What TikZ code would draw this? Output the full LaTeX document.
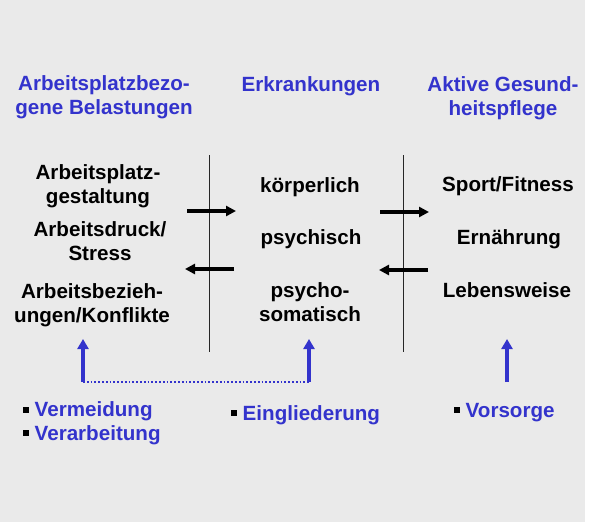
\documentclass[tikz,border=0pt]{standalone}
\usepackage{fontspec}
\setmainfont{Liberation Sans}
\usepackage{xcolor}
\usetikzlibrary{arrows.meta,positioning,calc}
\definecolor{headblue}{HTML}{3333CC}
\definecolor{panelgray}{HTML}{EAEAEA}
\newcommand{\sqbullet}{{\color{black}\rule[4pt]{6pt}{6pt}}\hspace{5.5pt}}

\begin{document}
\begin{tikzpicture}[
  x=1pt,
  y=-1pt,
  bigfont/.style={font=\bfseries\fontsize{20.6}{23.5}\selectfont},
  header/.style={bigfont,align=center,text=headblue,anchor=base,inner sep=0pt},
  factor/.style={bigfont,align=center,anchor=base,inner sep=0pt},
  measure/.style={bigfont,align=left,text=headblue,anchor=base west,inner sep=0pt},
  divider/.style={line width=1pt,draw=black!85},
  flow/.style={-{Triangle[length=10pt,width=10pt]},line width=3.3pt},
  lift/.style={-{Triangle[length=10pt,width=11pt]},line width=3.3pt,draw=headblue},
  link/.style={dotted,line width=1.8pt,draw=headblue}
]

\useasboundingbox (0,0) rectangle (590,522);
\fill[panelgray] (0,0) rectangle (585,522);

% column headers (base = last line)
\node[header] (belast) at (104,114) {Arbeitsplatzbezo-\\gene Belastungen};
\node[header] (erkrank) at (311,91) {Erkrankungen};
\node[header] (pflege) at (503,115) {Aktive Gesund-\\heitspflege};

% left column
\node[factor] (gestalt) at (98,203) {Arbeitsplatz-\\gestaltung};
\node[factor] (druck) at (100,260) {Arbeitsdruck/\\Stress};
\node[factor] (bezieh) at (92,322) {Arbeitsbezieh-\\ungen/Konflikte};

% middle column
\node[factor] (koerper) at (310,192) {körperlich};
\node[factor] (psych) at (311,244) {psychisch};
\node[factor] (psysom) at (310,321) {psycho-\\somatisch};

% right column
\node[factor] (sport) at (508,191) {Sport/Fitness};
\node[factor] (ernaehr) at (509,244) {Ernährung};
\node[factor] (leben) at (507,297) {Lebensweise};

% dividers
\coordinate (d1top) at (209,155);
\coordinate (d1bot) at (209,352);
\coordinate (d2top) at (403,155);
\coordinate (d2bot) at (403,352);
\draw[divider] (d1top) -- (d1bot);
\draw[divider] (d2top) -- (d2bot);

% influence arrows
\coordinate (a1s) at (187,211);
\coordinate (a1e) at (236,211);
\coordinate (a2s) at (234,269);
\coordinate (a2e) at (185,269);
\coordinate (a3s) at (380,212);
\coordinate (a3e) at (429,212);
\coordinate (a4s) at (428,270);
\coordinate (a4e) at (379,270);
\draw[flow] (a1s) -- (a1e);
\draw[flow] (a2s) -- (a2e);
\draw[flow] (a3s) -- (a3e);
\draw[flow] (a4s) -- (a4e);

% measures
\node[measure] (vermeid) at (23,440) {\sqbullet Vermeidung\\\sqbullet Verarbeitung};
\node[measure] (einglied) at (231,420) {\sqbullet Eingliederung};
\node[measure] (vorsorge) at (454,417) {\sqbullet Vorsorge};

\coordinate (l1base) at (83,382);
\coordinate (l1tip) at (83,339);
\coordinate (l2base) at (309,382);
\coordinate (l2tip) at (309,339);
\coordinate (l3base) at (507,382);
\coordinate (l3tip) at (507,339);
\draw[lift] (l1base) -- (l1tip);
\draw[lift] (l2base) -- (l2tip);
\draw[lift] (l3base) -- (l3tip);
\draw[link] (l1base) -- (l2base);

\end{tikzpicture}
\end{document}
